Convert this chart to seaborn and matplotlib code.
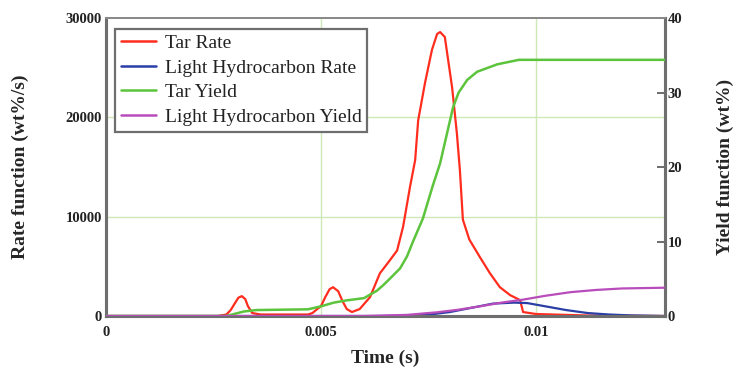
import numpy as np
import pandas as pd
import matplotlib
matplotlib.use("Agg")
import matplotlib.pyplot as plt
import seaborn as sns

# ---- data ----
tar_rate_t = [0, 0.0026, 0.0028, 0.0029, 0.0030, 0.00308, 0.00316, 0.00324, 0.0033, 0.0034, 0.0036,
              0.0047, 0.0048, 0.0050, 0.0051, 0.0052, 0.00528, 0.0054, 0.0055, 0.0056, 0.00572,
              0.0059, 0.0060, 0.00614, 0.00637, 0.0066, 0.00677, 0.00691, 0.00707, 0.00719, 0.00726,
              0.00742, 0.00758, 0.0077, 0.00777, 0.00788, 0.00805, 0.00816, 0.00823, 0.0083, 0.00845,
              0.0087, 0.00893, 0.00916, 0.0094, 0.00963, 0.0097, 0.0100, 0.0112, 0.013]
tar_rate_v = [0, 0, 150, 600, 1300, 1850, 2000, 1700, 1000, 300, 150,
              150, 300, 1000, 1900, 2700, 2900, 2500, 1500, 700, 400,
              700, 1200, 1900, 4300, 5600, 6600, 9000, 13000, 15700, 19700,
              23500, 26800, 28400, 28600, 28100, 23000, 18400, 14700, 9700, 7700,
              5900, 4300, 2900, 2100, 1600, 400, 200, 50, 0]

lh_rate_t = [0, 0.0064, 0.0070, 0.00753, 0.0080, 0.00847, 0.0090, 0.0095, 0.0098, 0.01025,
             0.0107, 0.0112, 0.0117, 0.0122, 0.013]
lh_rate_v = [0, 0, 50, 150, 400, 800, 1250, 1350, 1300, 950,
             600, 300, 150, 60, 0]

tar_yield_t = [0, 0.0028, 0.0030, 0.0032, 0.0035, 0.0047, 0.0050, 0.0053, 0.0056, 0.0060,
               0.0063, 0.00644, 0.0066, 0.00684, 0.0070, 0.00714, 0.00737, 0.0076, 0.00777,
               0.00793, 0.00807, 0.0082, 0.0084, 0.00863, 0.0091, 0.0096, 0.013]
tar_yield_v = [0, 0, 0.3, 0.6, 0.8, 0.9, 1.3, 1.8, 2.1, 2.4,
               3.4, 4.1, 5.0, 6.4, 8.0, 10.0, 13.1, 17.5, 20.5,
               24.5, 28.0, 30.0, 31.7, 32.8, 33.8, 34.4, 34.4]

lh_yield_t = [0, 0.0060, 0.0070, 0.0077, 0.0082, 0.0087, 0.0092, 0.0097, 0.0102, 0.0108,
              0.0114, 0.0120, 0.013]
lh_yield_v = [0, 0, 0.15, 0.5, 0.85, 1.3, 1.8, 2.2, 2.7, 3.2,
              3.5, 3.7, 3.8]

x_ticks = [0, 0.005, 0.01]
x_tick_labels = ["0", "0.005", "0.01"]
rate_ticks = [0, 10000, 20000, 30000]
yield_ticks = [0, 10, 20, 30, 40]

sns.set_style("white")
plt.rcParams['font.family'] = ['Liberation Serif', 'DejaVu Serif']

fig = plt.figure(figsize=(7.37, 3.78), dpi=100)
ax = fig.add_axes([0.1438, 0.164, 0.7585, 0.788])
ax2 = ax.twinx()

red = "#ff2d1e"
blue = "#2b3ea6"
green = "#5cc43c"
purple = "#b94cbb"
grid_c = "#cfe8b8"

for xv in [0.005, 0.01]:
    ax.axvline(xv, color=grid_c, lw=1, zorder=0)
for yv in [10000, 20000]:
    ax.axhline(yv, color=grid_c, lw=1, zorder=0)

sns.lineplot(x=tar_rate_t, y=tar_rate_v, ax=ax, color=red, lw=1.6, sort=False, zorder=3)
sns.lineplot(x=lh_rate_t, y=lh_rate_v, ax=ax, color=blue, lw=1.6, sort=False, zorder=3)
sns.lineplot(x=tar_yield_t, y=tar_yield_v, ax=ax2, color=green, lw=1.8, sort=False, zorder=3)
sns.lineplot(x=lh_yield_t, y=lh_yield_v, ax=ax2, color=purple, lw=1.6, sort=False, zorder=3)

ax.set_xlim(0, 0.013)
ax.set_ylim(0, 30000)
ax2.set_ylim(0, 40)

ax.set_xticks(x_ticks)
ax.set_xticklabels(x_tick_labels)
ax.set_yticks(rate_ticks)
ax.set_yticklabels([str(v) for v in rate_ticks])
ax2.set_yticks(yield_ticks)
ax2.set_yticklabels([str(v) for v in yield_ticks])

for a in (ax, ax2):
    a.tick_params(labelsize=10.5, colors="#333333", length=0, pad=3)
ax2.tick_params(axis='y', direction='in', length=6, width=1.2, color="#555555", pad=2)
for lab in ax.get_xticklabels() + ax.get_yticklabels() + ax2.get_yticklabels():
    lab.set_fontweight('bold')
    lab.set_color('#222222')
ax.tick_params(axis='x', pad=7)

for a in (ax, ax2):
    for s in a.spines.values():
        s.set_color("#6e6e6e")
    a.spines['left'].set_linewidth(2.2)
    a.spines['bottom'].set_linewidth(2.2)
    a.spines['right'].set_linewidth(2.2)
    a.spines['top'].set_linewidth(1.4)
    a.spines['top'].set_color("#8a8a8a")

ax.set_xlabel("Time (s)", fontsize=14, fontweight='bold', labelpad=8)
ax.set_ylabel("Rate function (wt%/s)", fontsize=14, fontweight='bold', labelpad=26)
ax2.set_ylabel("Yield function (wt%)", fontsize=14, fontweight='bold', labelpad=25)

from matplotlib.lines import Line2D
handles = [Line2D([], [], color=red, lw=1.8), Line2D([], [], color=blue, lw=1.8),
           Line2D([], [], color=green, lw=1.8), Line2D([], [], color=purple, lw=1.8)]
labels = ["Tar Rate", "Light Hydrocarbon Rate", "Tar Yield", "Light Hydrocarbon Yield"]
leg = ax2.legend(handles, labels, loc='upper left', bbox_to_anchor=(0.016, 0.965),
                 fontsize=14, frameon=True, fancybox=False, framealpha=1,
                 borderpad=0.3, labelspacing=0.36, handlelength=1.8, handletextpad=0.45,
                 borderaxespad=0)
leg.get_frame().set_edgecolor("#6e6e6e")
leg.get_frame().set_linewidth(1.6)
for t in leg.get_texts():
    t.set_color("#222222")

fig.savefig("out.png", dpi=100)
